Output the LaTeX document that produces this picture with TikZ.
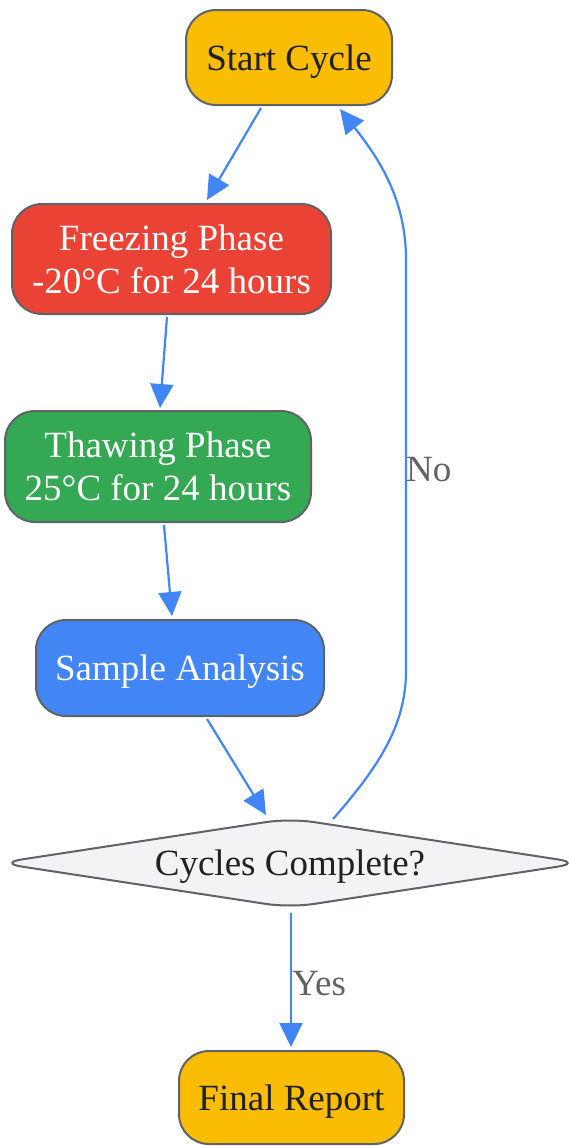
\documentclass[tikz,border=0pt]{standalone}
\usepackage{fontspec}
\setmainfont{Liberation Serif}
\usetikzlibrary{shapes.geometric,arrows.meta,calc}
\definecolor{gyellow}{HTML}{FBBC04}
\definecolor{gred}{HTML}{EA4335}
\definecolor{ggreen}{HTML}{34A853}
\definecolor{gblue}{HTML}{4285F4}
\definecolor{glight}{HTML}{F1F3F4}
\definecolor{gborder}{HTML}{5F6368}
\definecolor{gtext}{HTML}{202124}
\begin{document}
\begin{tikzpicture}[x=0.5pt,y=-0.5pt,
  box/.style={draw=gborder,line width=1pt,rounded corners=15pt,align=center,inner sep=0pt,
    text depth=0pt,font=\fontsize{18.5}{21.5}\selectfont},
  dec/.style={draw=gborder,line width=1pt,diamond,aspect=6.18,inner sep=0pt,text depth=0pt,
    minimum width=292pt,minimum height=45pt,rounded corners=12pt,fill=glight,text=gtext,
    font=\fontsize{18.5}{21.5}\selectfont},
  conn/.style={draw=gblue,line width=1.1pt,-{Triangle[length=12pt,width=11.5pt]}},
  lbl/.style={text=gborder,font=\fontsize{18.5}{21.5}\selectfont,inner sep=0pt}]
\useasboundingbox (0,0) rectangle (568,1146);
\node[box,fill=gyellow,text=gtext,minimum width=103pt,minimum height=47.5pt] (start) at (289,57.5) {Start Cycle};
\node[box,fill=gred,text=white,minimum width=159.5pt,minimum height=55pt] (freeze) at (171.5,259) {Freezing Phase\\-20°C for 24 hours};
\node[box,fill=ggreen,text=white,minimum width=153pt,minimum height=55.5pt] (thaw) at (158,466.5) {Thawing Phase\\25°C for 24 hours};
\node[box,fill=gblue,text=white,minimum width=144pt,minimum height=48pt] (sample) at (180,668) {Sample Analysis};
\node[dec] (check) at (290,863) {Cycles Complete?};
\node[box,fill=gyellow,text=gtext,minimum width=112.5pt,minimum height=46.5pt] (final) at (291.5,1097.5) {Final Report};
\draw[conn] ($(start.south)+(-28,2)$) -- ($(freeze.north)+(35.5,-3)$);
\draw[conn] ($(freeze.south)+(-4.5,2)$) -- ($(thaw.north)+(2,-2)$);
\draw[conn] ($(thaw.south)+(6,2)$) -- ($(sample.north)+(-8,-3)$);
\draw[conn] ($(sample.south)+(27,2)$) -- ($(check.north)+(-24,-2)$);
\draw[conn] ($(check.south)+(1,4)$) -- node[lbl,pos=0.5,right=0pt,yshift=-2pt] {Yes} ($(final.north)+(-0.5,-3)$);
\draw[conn] ($(check.north)+(43,2)$) .. controls (385,760) and (406,720) .. (406,670)
  -- node[lbl,pos=0.5,right=-0.5pt,yshift=-2.5pt] {No} (406,260)
  .. controls (406,200) and (380,160) .. ($(start.south)+(51,3)$);
\end{tikzpicture}
\end{document}
